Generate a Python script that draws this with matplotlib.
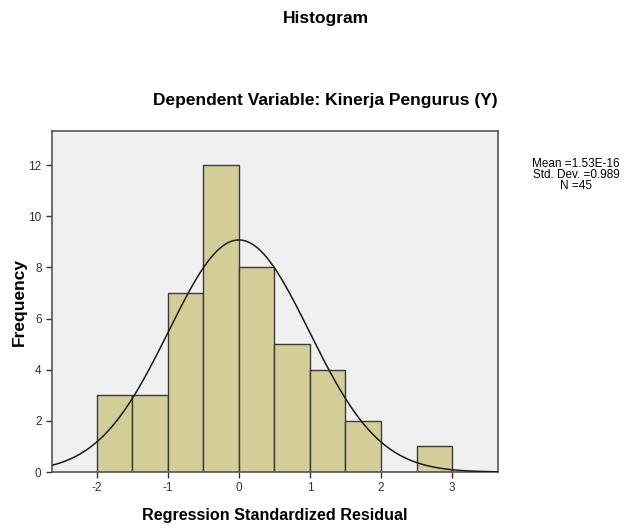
import matplotlib.pyplot as plt
import numpy as np

# Histogram of regression standardized residuals (SPSS style)
bin_edges = [-2.0, -1.5, -1.0, -0.5, 0.0, 0.5, 1.0, 1.5, 2.0, 2.5, 3.0]
counts = [3, 3, 7, 12, 8, 5, 4, 2, 0, 1]
mean = 1.53e-16
std_dev = 0.989
n = 45

plt.rcParams['font.family'] = ['Liberation Sans', 'DejaVu Sans']
plt.rcParams['axes.unicode_minus'] = False

fig = plt.figure(figsize=(6.26, 5.31), dpi=100)
ax = fig.add_axes([0.083, 0.111, 0.713, 0.642])
ax.set_facecolor('#f0f0f0')

widths = np.diff(bin_edges)
ax.bar(bin_edges[:-1], counts, width=widths, align='edge',
       color='#d3ce97', edgecolor='#3a3a3a', linewidth=1.0, zorder=2)

# normal curve scaled to counts
x = np.linspace(-2.63, 3.65, 400)
bw = widths[0]
y = n * bw / (std_dev * np.sqrt(2 * np.pi)) * np.exp(-0.5 * ((x - mean) / std_dev) ** 2)
ax.plot(x, y, color='#1a1a1a', linewidth=1.1, zorder=3)

ax.set_xlim(-2.63, 3.65)
ax.set_ylim(0, 13.33)
ax.set_xticks([-2, -1, 0, 1, 2, 3])
ax.set_yticks([0, 2, 4, 6, 8, 10, 12])
ax.tick_params(labelsize=8.5, colors='#333333', length=4, width=1)
for s in ax.spines.values():
    s.set_color('#555555')
    s.set_linewidth(1.2)

ax.set_xlabel('Regression Standardized Residual', fontsize=11.6, fontweight='bold', labelpad=10)
ax.set_ylabel('Frequency', fontsize=12.5, fontweight='bold', labelpad=1)

fig.text(0.52, 0.965, 'Histogram', ha='center', va='center', fontsize=12.5, fontweight='bold')
fig.text(0.52, 0.81, 'Dependent Variable: Kinerja Pengurus (Y)', ha='center', va='center',
         fontsize=12.5, fontweight='bold')

fig.text(0.92, 0.67, 'Mean =%.2fE-16\nStd. Dev. =%.3f\nN =%d' % (mean * 1e16, std_dev, n),
         ha='center', va='center', fontsize=8.5, linespacing=0.9)

fig.savefig('out.png', dpi=100)
